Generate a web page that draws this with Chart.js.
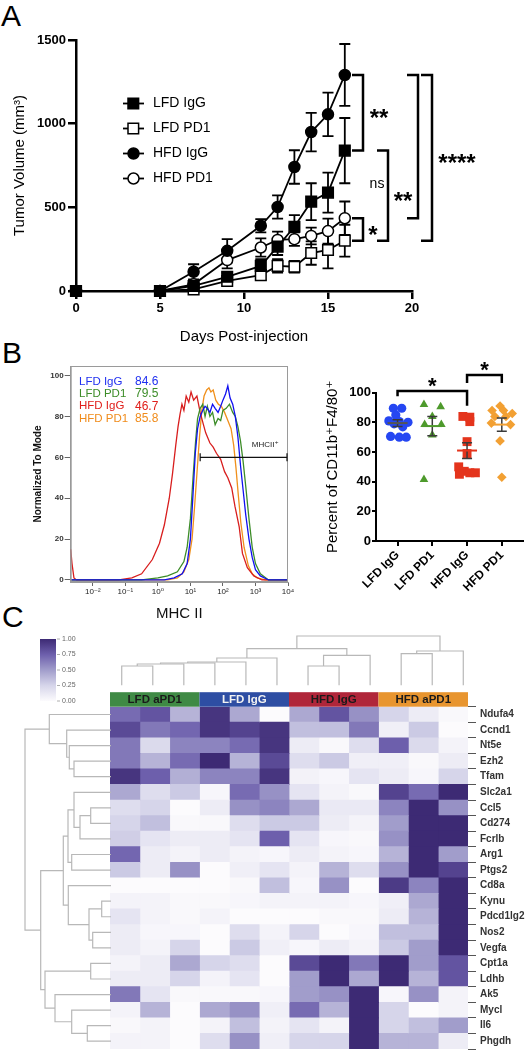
<!DOCTYPE html>
<html>
<head>
<meta charset="utf-8">
<script src="https://cdn.jsdelivr.net/npm/chart.js@4.4.0/dist/chart.umd.min.js"></script>
<style>
  body { margin: 0; background: #fff; width: 531px; height: 1050px; position: relative; overflow: hidden;
         font-family: "Liberation Sans", Arial, sans-serif; }
  canvas { position: absolute; }
  .panel { position: absolute; font-size: 30px; line-height: 30px; color: #000; }
</style>
</head>
<body>
<div class="panel" style="left:1px;top:1px">A</div>
<div class="panel" style="left:2px;top:338px">B</div>
<div class="panel" style="left:2px;top:602px">C</div>

<canvas id="tumor" width="531" height="350" style="left:0;top:0;width:531px;height:350px"></canvas>
<canvas id="flow" width="300" height="280" style="left:0;top:350px;width:300px;height:280px"></canvas>
<canvas id="dots" width="241" height="280" style="left:290px;top:350px;width:241px;height:280px"></canvas>
<canvas id="heat" width="531" height="440" style="left:0;top:630px;width:531px;height:440px"></canvas>
<canvas id="dendTop" width="531" height="60" style="left:0;top:630px;width:531px;height:60px"></canvas>
<canvas id="dendLeft" width="115" height="350" style="left:0;top:700px;width:115px;height:350px"></canvas>

<script>
// ---------- panel A: tumour growth ----------
const days = [0, 5, 7, 9, 11, 12, 13, 14, 15, 16];
const lfdIgG    = [0, 0, 30, 85, 150, 265, 384, 534, 588, 839];
const lfdIgGSem = [0, 0, 20, 25, 40, 50, 70, 110, 120, 195];
const lfdPD1    = [0, 0, 10, 60, 95, 150, 145, 227, 245, 301];
const lfdPD1Sem = [0, 0, 10, 20, 30, 40, 35, 70, 110, 95];
const hfdIgG    = [0, 0, 115, 240, 390, 502, 741, 950, 1056, 1291];
const hfdIgGSem = [0, 0, 45, 70, 40, 70, 100, 115, 130, 185];
const hfdPD1    = [0, 0, 40, 185, 260, 305, 310, 329, 358, 435];
const hfdPD1Sem = [0, 0, 25, 50, 55, 50, 40, 50, 75, 100];

// ---------- panel B left: MHC II histograms (x in log10 units) ----------
const flowNames = ['LFD IgG', 'LFD PD1', 'HFD IgG', 'HFD PD1'];
const flowPct = ['84.6', '79.5', '46.7', '85.8'];
const blueX = [-2.68,0.2,0.5,0.75,0.9,1.0,1.08,1.15,1.22,1.3,1.38,1.45,1.52,1.6,1.68,1.76,1.85,1.93,2.0,2.08,2.15,2.22,2.3,2.38,2.46,2.54,2.62,2.7,2.8,2.9,3.0,3.15,3.4,4.0];
const blueY = [0,0,1,3,8,20,42,62,74,80,83,85,84,82,86,84,82,85,88,91,95,89,86,80,70,56,44,32,20,11,5,2,0,0];
const greenX = [-2.68,-0.5,0.0,0.3,0.6,0.8,0.9,1.0,1.08,1.16,1.22,1.3,1.38,1.45,1.52,1.6,1.68,1.76,1.85,1.93,2.0,2.1,2.2,2.3,2.38,2.46,2.54,2.62,2.7,2.8,2.9,3.0,3.15,3.4,4.0];
const greenY = [0,0,1,2,4,9,16,30,50,68,79,84,86,80,85,80,82,76,79,78,83,84,86,82,80,75,68,58,46,30,16,8,3,0,0];
const redX = [-2.68,-2.64,-2.58,-2.5,-1.2,-0.8,-0.5,-0.17,0.05,0.2,0.35,0.45,0.55,0.62,0.68,0.74,0.8,0.87,0.95,1.02,1.1,1.2,1.3,1.4,1.47,1.6,1.7,1.8,1.93,2.05,2.15,2.27,2.37,2.5,2.6,2.75,2.95,3.2,4.0];
const redY = [15,8,1,0,0,1,3,10,18,27,40,52,66,75,81,86,83,90,87,92,88,90,82,76,72,67,65,62,59,53,50,45,36,26,13,6,2,0,0];
const orangeX = [-2.68,0.3,0.6,0.8,0.95,1.05,1.12,1.2,1.28,1.35,1.42,1.5,1.57,1.63,1.7,1.78,1.86,1.95,2.05,2.15,2.25,2.33,2.4,2.47,2.55,2.65,2.78,2.9,3.05,3.3,4.0];
const orangeY = [0,0,1,4,10,20,34,52,70,83,90,93,94,92,93,88,86,85,82,78,74,66,55,42,28,16,7,3,1,0,0];
const decades = [-2, -1, 0, 1, 2, 3, 4];
const gateLevel = 60, gateStart = 1.3;

// ---------- panel B right: % CD11b+F4/80+ ----------
const dotLabels = ['LFD IgG', 'LFD PD1', 'HFD IgG', 'HFD PD1'];
const dotLfdIgG = [89.5, 89.5, 85, 81, 80.5, 80, 79, 77, 70.5, 70, 70];
const jitLfdIgG = [-0.12, 0.12, -0.05, -0.25, 0.05, 0.3, -0.1, 0.15, -0.2, 0.05, 0.25];
const dotLfdPD1 = [92, 90.5, 84, 78.5, 78.5, 71.5, 41.5];
const jitLfdPD1 = [-0.24, 0.24, 0, -0.22, 0.26, 0, -0.24];
const dotHfdIgG = [84, 83.5, 80.5, 67, 59, 50, 47, 46, 46, 45];
const jitHfdIgG = [-0.12, 0.08, 0.08, 0, 0, -0.24, -0.08, 0.08, 0.24, -0.22];
const dotHfdPD1 = [91, 88, 88, 86, 84, 84, 79.5, 78.5, 67.5, 43];
const jitHfdPD1 = [-0.05, -0.28, 0.05, 0.3, -0.2, 0.12, -0.3, 0.25, -0.05, 0];
const dotMeans = [79.5, 77.5, 61, 78.5];
const dotSems = [2.3, 6.5, 5.3, 4.5];

// ---------- panel C: heatmap ----------
const genes = ['Ndufa4','Ccnd1','Nt5e','Ezh2','Tfam','Slc2a1','Ccl5','Cd274','Fcrlb','Arg1','Ptgs2',
               'Cd8a','Kynu','Pdcd1lg2','Nos2','Vegfa','Cpt1a','Ldhb','Ak5','Mycl','Il6','Phgdh'];
const heatGroups = ['LFD aPD1', 'LFD IgG', 'HFD IgG', 'HFD aPD1'];
const heatValues = [
  [0.70,0.80,0.40, 0.95,0.45,0.00, 0.45,0.80,0.55, 0.25,0.10,0.02],
  [0.85,0.65,0.72, 0.95,0.88,0.95, 0.35,0.35,0.65, 0.08,0.30,0.00],
  [0.65,0.22,0.60, 0.60,0.70,0.95, 0.10,0.02,0.20, 0.75,0.22,0.05],
  [0.65,0.40,0.70, 1.00,0.40,0.85, 0.20,0.30,0.08, 0.08,0.02,0.10],
  [0.95,0.75,0.42, 0.60,0.60,0.95, 0.06,0.03,0.15, 0.10,0.03,0.25],
  [0.45,0.20,0.30, 0.03,0.70,0.55, 0.15,0.05,0.02, 0.88,0.70,1.00],
  [0.20,0.25,0.00, 0.10,0.55,0.60, 0.45,0.12,0.12, 0.60,1.00,0.55],
  [0.25,0.35,0.02, 0.02,0.20,0.30, 0.30,0.10,0.05, 0.50,1.00,1.00],
  [0.28,0.15,0.10, 0.10,0.15,0.75, 0.15,0.03,0.02, 0.55,1.00,1.00],
  [0.72,0.10,0.05, 0.10,0.05,0.03, 0.10,0.05,0.03, 0.40,1.00,0.50],
  [0.30,0.10,0.55, 0.00,0.08,0.15, 0.05,0.40,0.20, 0.55,1.00,0.88],
  [0.00,0.00,0.00, 0.00,0.02,0.35, 0.03,0.55,0.00, 0.92,0.60,1.00],
  [0.05,0.05,0.02, 0.02,0.03,0.05, 0.05,0.05,0.03, 0.08,0.45,1.00],
  [0.15,0.05,0.02, 0.05,0.00,0.00, 0.00,0.02,0.02, 0.10,0.40,1.00],
  [0.10,0.03,0.03, 0.00,0.20,0.05, 0.25,0.00,0.03, 0.35,0.35,1.00],
  [0.10,0.05,0.25, 0.00,0.30,0.08, 0.03,0.10,0.05, 0.30,0.50,1.00],
  [0.05,0.10,0.45, 0.25,0.20,0.00, 0.85,1.00,0.65, 1.00,0.50,0.80],
  [0.10,0.10,0.25, 0.05,0.15,0.00, 0.50,1.00,0.45, 1.00,0.40,0.80],
  [0.65,0.15,0.02, 0.02,0.02,0.03, 0.50,0.55,1.00, 0.03,0.55,0.05],
  [0.05,0.40,0.00, 0.45,0.55,0.08, 0.70,0.40,1.00, 0.25,0.00,0.05],
  [0.02,0.05,0.00, 0.05,0.35,0.05, 0.15,0.05,1.00, 0.25,0.35,0.50],
  [0.05,0.05,0.00, 0.20,0.55,0.08, 0.25,0.25,1.00, 0.40,0.40,0.10]
];
const colorbarTicks = [0, 0.25, 0.5, 0.75, 1];
// dendrograms: [childA, childB, height]; leaves first, internal nodes numbered after them
const colMerges = [[0,1,19.3],[12,2,21.3],[13,3,22.3],[14,4,23.3],[15,5,27.3],[6,7,19.3],[17,8,30],
                   [16,18,36.7],[9,10,31.7],[20,11,34.3],[19,21,49.3]];
const rowMerges = [[3,4,3.7],[2,22,4.17],[1,23,4.43],[0,24,6.17],[6,7,2.03],[26,8,3.1],[5,27,3.7],
                   [9,10,3.93],[28,29,4.3],[12,13,0.93],[14,15,1.83],[31,32,2.2],[11,33,4.27],[30,34,4.77],
                   [16,17,2.03],[20,21,2.37],[19,37,3.93],[18,38,5.6],[36,39,6.6],[35,40,7.03],[25,41,8.6]];

Chart.defaults.font.family = '"Liberation Sans", "DejaVu Sans", Arial, sans-serif';
Chart.defaults.color = '#000';
const FONT = '"Liberation Sans", "DejaVu Sans", Arial, sans-serif';
const quiet = { legend: { display: false }, tooltip: { enabled: false } };

function drawStars(ctx, text, x, mid, size) {
  ctx.font = 'bold ' + size + 'px ' + FONT;
  ctx.textAlign = 'center';
  ctx.textBaseline = 'alphabetic';
  ctx.fillText(text, x, mid + size * 0.57);
}

// ===== panel A =====
const groupsA = [
  { name: 'LFD IgG', mean: lfdIgG, sem: lfdIgGSem, shape: 'rect', fill: '#000' },
  { name: 'LFD PD1', mean: lfdPD1, sem: lfdPD1Sem, shape: 'rect', fill: '#fff' },
  { name: 'HFD IgG', mean: hfdIgG, sem: hfdIgGSem, shape: 'circle', fill: '#000' },
  { name: 'HFD PD1', mean: hfdPD1, sem: hfdPD1Sem, shape: 'circle', fill: '#fff' }
];
const last = days.length - 1;
// [series a, series b, bracket x, label, label x]
const bracketsA = [[2, 0, 363, '**', 379], [3, 1, 363, '*', 373], [0, 1, 388, '**', 403],
                   [2, 3, 418, '', 0], [2, 1, 432, '****', 457]];

const errorBarsA = {
  id: 'errorBarsA',
  beforeDatasetsDraw(chart) {
    const { ctx, scales: { x, y } } = chart;
    ctx.save();
    ctx.strokeStyle = '#000';
    ctx.lineWidth = 1.8;
    groupsA.forEach(g => {
      g.sem.forEach((s, i) => {
        if (!s) return;
        const px = x.getPixelForValue(days[i]);
        const top = y.getPixelForValue(g.mean[i] + s), bot = y.getPixelForValue(Math.max(0, g.mean[i] - s));
        ctx.beginPath();
        ctx.moveTo(px, top); ctx.lineTo(px, bot);
        ctx.moveTo(px - 5.5, top); ctx.lineTo(px + 5.5, top);
        ctx.moveTo(px - 5.5, bot); ctx.lineTo(px + 5.5, bot);
        ctx.stroke();
      });
    });
    ctx.restore();
  }
};

const decorA = {
  id: 'decorA',
  afterDraw(chart) {
    const { ctx, scales: { y } } = chart;
    ctx.save();
    // legend
    groupsA.forEach((g, k) => {
      const ly = 103.5 + k * 25;
      ctx.strokeStyle = '#000'; ctx.lineWidth = 1.8;
      ctx.beginPath(); ctx.moveTo(123, ly); ctx.lineTo(144, ly); ctx.stroke();
      ctx.fillStyle = g.fill; ctx.lineWidth = 1.5;
      ctx.beginPath();
      if (g.shape === 'rect') ctx.rect(128, ly - 5.3, 10.6, 10.6);
      else ctx.arc(133.5, ly, 5.5, 0, Math.PI * 2);
      ctx.fill(); ctx.stroke();
      ctx.fillStyle = '#000';
      ctx.font = '14px ' + FONT; ctx.textAlign = 'left'; ctx.textBaseline = 'middle';
      ctx.fillText(g.name, 153, ly);
    });
    // significance brackets
    ctx.strokeStyle = '#000'; ctx.lineWidth = 2.5; ctx.fillStyle = '#000';
    bracketsA.forEach(([a, b, bx, lab, lx]) => {
      const ya = y.getPixelForValue(groupsA[a].mean[last]);
      const yb = y.getPixelForValue(groupsA[b].mean[last]);
      ctx.beginPath();
      ctx.moveTo(bx - 11, ya); ctx.lineTo(bx, ya); ctx.lineTo(bx, yb); ctx.lineTo(bx - 11, yb);
      ctx.stroke();
      if (lab) drawStars(ctx, lab, lx, (ya + yb) / 2, 24);
    });
    const nsY = (y.getPixelForValue(lfdIgG[last]) + y.getPixelForValue(hfdPD1[last])) / 2;
    ctx.font = '14px ' + FONT; ctx.textAlign = 'center'; ctx.textBaseline = 'middle';
    ctx.fillText('ns', 377, nsY);
    ctx.restore();
  }
};

new Chart(document.getElementById('tumor'), {
  type: 'line',
  data: {
    datasets: groupsA.map(g => ({
      label: g.name,
      data: days.map((d, i) => ({ x: d, y: g.mean[i] })),
      borderColor: '#000', borderWidth: 1.8,
      pointStyle: g.shape, pointRadius: g.shape === 'rect' ? 7.5 : 5.5,
      pointBackgroundColor: g.fill, pointBorderColor: '#000', pointBorderWidth: 1.5,
      clip: false, tension: 0
    }))
  },
  options: {
    responsive: false, animation: false, events: [],
    layout: { padding: { top: 40, right: 119, left: 0, bottom: 0 } },
    plugins: quiet,
    scales: {
      x: {
        type: 'linear', min: 0, max: 20,
        ticks: { stepSize: 5, color: '#000', font: { size: 13, weight: 'bold' }, padding: 2, callback: v => String(v) },
        grid: { drawOnChartArea: false, color: '#000', lineWidth: 2.5, tickLength: 8 },
        border: { color: '#000', width: 2.5 },
        title: { display: true, text: 'Days Post-injection', font: { size: 15 }, color: '#000', padding: { top: 0, bottom: 4 } },
        afterFit(s) { s.height = 59; }
      },
      y: {
        min: 0, max: 1500,
        ticks: { stepSize: 500, color: '#000', font: { size: 13, weight: 'bold' }, padding: 2, callback: v => String(v) },
        grid: { drawOnChartArea: false, color: '#000', lineWidth: 2.5, tickLength: 8 },
        border: { color: '#000', width: 2.5 },
        title: { display: true, text: 'Tumor Volume (mm³)', font: { size: 15 }, color: '#000', padding: { top: 11, bottom: 0 } },
        afterFit(s) { s.width = 76; }
      }
    }
  },
  plugins: [errorBarsA, decorA]
});

// ===== panel B left =====
const flowSeries = [
  { x: blueX, y: blueY, color: '#1010f0', text: '#2030f0' },
  { x: greenX, y: greenY, color: '#3c8c28', text: '#3c8c28' },
  { x: redX, y: redY, color: '#d81e1e', text: '#e0201c' },
  { x: orangeX, y: orangeY, color: '#f0901c', text: '#f08c1c' }
];
const supMap = { '-': '⁻', '0': '⁰', '1': '¹', '2': '²', '3': '³', '4': '⁴' };

const flowDecor = {
  id: 'flowDecor',
  afterDraw(chart) {
    const { ctx, chartArea: a, scales: { x, y } } = chart;
    ctx.save();
    ctx.strokeStyle = '#9a9a9a'; ctx.lineWidth = 1;
    ctx.strokeRect(a.left + 0.5, a.top + 0.5, a.right - a.left - 1, a.bottom - a.top - 1);
    ctx.font = '11.5px ' + FONT; ctx.textBaseline = 'middle'; ctx.textAlign = 'left';
    flowNames.forEach((n, k) => {
      const ly = 31.5 + k * 12.4;
      ctx.fillStyle = flowSeries[k].text;
      ctx.fillText(n, 79, ly);
      ctx.font = '12px ' + FONT;
      ctx.fillText(flowPct[k], 135, ly);
      ctx.font = '11.5px ' + FONT;
    });
    // MHCII+ gate
    const gy = y.getPixelForValue(gateLevel), gx0 = x.getPixelForValue(gateStart), gx1 = a.right - 1;
    ctx.strokeStyle = '#111'; ctx.lineWidth = 1.2;
    ctx.beginPath();
    ctx.moveTo(gx0, gy); ctx.lineTo(gx1, gy);
    ctx.moveTo(gx0, gy - 4); ctx.lineTo(gx0, gy + 4);
    ctx.moveTo(gx1, gy - 4); ctx.lineTo(gx1, gy + 4);
    ctx.stroke();
    ctx.fillStyle = '#222'; ctx.font = '8px ' + FONT; ctx.textAlign = 'center';
    ctx.fillText('MHCII⁺', x.getPixelForValue(3.3), y.getPixelForValue(66));
    ctx.restore();
  }
};

new Chart(document.getElementById('flow'), {
  type: 'line',
  data: {
    datasets: flowSeries.map((s, k) => ({
      label: flowNames[k],
      data: s.x.map((v, i) => ({ x: v, y: s.y[i] })),
      borderColor: s.color, borderWidth: 1.3, pointRadius: 0, tension: 0
    }))
  },
  options: {
    responsive: false, animation: false, events: [],
    layout: { padding: { top: 16, right: 12, left: 0, bottom: 0 } },
    plugins: quiet,
    scales: {
      x: {
        type: 'linear', min: -2.68, max: 4,
        afterBuildTicks(s) { s.ticks = decades.map(v => ({ value: v })); },
        ticks: { callback: v => '10' + String(Math.round(v)).split('').map(c => supMap[c]).join(''),
                 font: { size: 8 }, color: '#222', padding: 1, maxRotation: 0, autoSkip: false },
        grid: { drawOnChartArea: false, color: '#666', tickLength: 4 },
        border: { color: '#9a9a9a', width: 1 },
        title: { display: true, text: 'MHC II', font: { size: 15 }, color: '#111', padding: { top: 0, bottom: 7 } },
        afterFit(s) { s.height = 48; }
      },
      y: {
        min: -1, max: 104.7,
        afterBuildTicks(s) { s.ticks = [0, 20, 40, 60, 80, 100].map(v => ({ value: v })); },
        ticks: { font: { size: 8, weight: 'bold' }, color: '#333', padding: 1 },
        grid: { drawOnChartArea: false, color: '#666', tickLength: 6 },
        border: { color: '#9a9a9a', width: 1 },
        title: { display: true, text: 'Normalized To Mode', font: { size: 10, weight: 'bold' }, color: '#111', padding: { top: 32, bottom: 0 } },
        afterFit(s) { s.width = 70.7; }
      }
    }
  },
  plugins: [flowDecor]
});

// ===== panel B right =====
const dotGroups = [
  { values: dotLfdIgG, jitter: jitLfdIgG, shape: 'circle', r: 4.6, color: '#2546f2' },
  { values: dotLfdPD1, jitter: jitLfdPD1, shape: 'triangle', r: 5, color: '#4e9a2c' },
  { values: dotHfdIgG, jitter: jitHfdIgG, shape: 'rect', r: 6.3, color: '#e4341c' },
  { values: dotHfdPD1, jitter: jitHfdPD1, shape: 'rectRot', r: 4.8, color: '#f2a033' }
];
// [group a, group b, top level, drop level a, drop level b, star level]
const bracketsB = [[0, 2, 101.2, 97.6, 91.2, 108.2], [2, 3, 112, 106.6, 106.6, 119]];

const dotDecor = {
  id: 'dotDecor',
  afterDatasetsDraw(chart) {
    const { ctx, scales: { x, y } } = chart;
    ctx.save();
    dotGroups.forEach((g, k) => {
      const cx = x.getPixelForValue(k + 1);
      const yt = y.getPixelForValue(dotMeans[k] + dotSems[k]);
      const yb = y.getPixelForValue(dotMeans[k] - dotSems[k]);
      const ym = y.getPixelForValue(dotMeans[k]);
      ctx.strokeStyle = '#3a3a3a'; ctx.lineWidth = 1.5;
      ctx.beginPath();
      ctx.moveTo(cx, yt); ctx.lineTo(cx, yb);
      ctx.moveTo(cx - 5, yt); ctx.lineTo(cx + 5, yt);
      ctx.moveTo(cx - 5, yb); ctx.lineTo(cx + 5, yb);
      ctx.stroke();
      ctx.strokeStyle = k === 0 ? '#555' : g.color; ctx.lineWidth = 2;
      ctx.beginPath(); ctx.moveTo(cx - 10, ym); ctx.lineTo(cx + 10, ym); ctx.stroke();
    });
    ctx.strokeStyle = '#000'; ctx.fillStyle = '#000'; ctx.lineWidth = 2.5;
    bracketsB.forEach(([a, b, top, da, db, star]) => {
      const xa = x.getPixelForValue(a + 1), xb = x.getPixelForValue(b + 1);
      ctx.beginPath();
      ctx.moveTo(xa, y.getPixelForValue(da)); ctx.lineTo(xa, y.getPixelForValue(top));
      ctx.lineTo(xb, y.getPixelForValue(top)); ctx.lineTo(xb, y.getPixelForValue(db));
      ctx.stroke();
      drawStars(ctx, '*', (xa + xb) / 2, y.getPixelForValue(star), 22);
    });
    ctx.restore();
  }
};

new Chart(document.getElementById('dots'), {
  type: 'scatter',
  data: {
    datasets: dotGroups.map((g, k) => ({
      label: dotLabels[k],
      data: g.values.map((v, i) => ({ x: k + 1 + g.jitter[i], y: v })),
      pointStyle: g.shape, pointRadius: g.r,
      backgroundColor: g.color, borderColor: g.color, borderWidth: 0, clip: false
    }))
  },
  options: {
    responsive: false, animation: false, events: [],
    layout: { padding: { top: 42.7, right: 8, left: 0, bottom: 0 } },
    plugins: quiet,
    scales: {
      x: {
        type: 'linear', min: 0.38, max: 4.61,
        afterBuildTicks(s) { s.ticks = [1, 2, 3, 4].map(v => ({ value: v })); },
        ticks: { callback: v => dotLabels[Math.round(v) - 1], minRotation: 45, maxRotation: 45,
                 font: { size: 12, weight: 'bold' }, color: '#000', padding: 2, autoSkip: false },
        grid: { drawOnChartArea: false, color: '#000', lineWidth: 2, tickLength: 5 },
        border: { color: '#000', width: 2 },
        afterFit(s) { s.height = 89; }
      },
      y: {
        min: 0, max: 100,
        afterBuildTicks(s) { s.ticks = [0, 20, 40, 60, 80, 100].map(v => ({ value: v })); },
        ticks: { font: { size: 13, weight: 'bold' }, color: '#000', padding: 1 },
        grid: { drawOnChartArea: false, color: '#000', lineWidth: 2, tickLength: 4 },
        border: { color: '#000', width: 2 },
        title: { display: true, text: 'Percent of CD11b⁺F4/80⁺', font: { size: 15 }, color: '#000', padding: { top: 34, bottom: 0 } },
        afterFit(s) { s.width = 86; }
      }
    }
  },
  plugins: [dotDecor]
});

// ===== panel C: heatmap =====
const purpleStops = [[0, [252, 251, 253]], [0.25, [214, 213, 234]], [0.5, [161, 157, 203]], [0.75, [109, 95, 172]], [1, [61, 42, 116]]];
function purple(v) {
  for (let i = 1; i < purpleStops.length; i++) {
    const [v1, c1] = purpleStops[i], [v0, c0] = purpleStops[i - 1];
    if (v <= v1) {
      const t = (v - v0) / (v1 - v0);
      return 'rgb(' + c0.map((c, j) => Math.round(c + (c1[j] - c) * t)).join(',') + ')';
    }
  }
  return 'rgb(61,42,116)';
}
const headerFill = ['#3f8a45', '#2e4ea3', '#b0263a', '#e8952f'];
const headerText = ['#1a1a1a', '#f2f2f2', '#1a1a1a', '#1a1a1a'];

const heatDecor = {
  id: 'heatDecor',
  afterDraw(chart) {
    const { ctx, chartArea: a, scales: { x } } = chart;
    ctx.save();
    heatGroups.forEach((g, k) => {
      const x0 = x.getPixelForValue(k * 3), x1 = x.getPixelForValue(k * 3 + 3);
      ctx.fillStyle = headerFill[k];
      ctx.fillRect(x0, a.top - 14.5, x1 - x0, 14.5);
      ctx.fillStyle = headerText[k];
      ctx.font = 'bold 11.5px ' + FONT; ctx.textAlign = 'center'; ctx.textBaseline = 'middle';
      ctx.fillText(g, (x0 + x1) / 2, a.top - 7);
    });
    // colour bar
    const cbL = 40, cbT = 9, cbB = 71, cbW = 16;
    const grad = ctx.createLinearGradient(0, cbB, 0, cbT);
    purpleStops.forEach(([v]) => grad.addColorStop(v, purple(v)));
    ctx.fillStyle = grad;
    ctx.fillRect(cbL, cbT, cbW, cbB - cbT);
    ctx.strokeStyle = '#999'; ctx.lineWidth = 0.8; ctx.fillStyle = '#666';
    ctx.font = '7px ' + FONT; ctx.textAlign = 'left'; ctx.textBaseline = 'middle';
    colorbarTicks.forEach(v => {
      const ty = cbB - v * (cbB - cbT);
      ctx.beginPath(); ctx.moveTo(cbL + cbW + 1, ty); ctx.lineTo(cbL + cbW + 4, ty); ctx.stroke();
      ctx.fillText(v.toFixed(2), cbL + cbW + 6, ty);
    });
    ctx.restore();
  }
};

new Chart(document.getElementById('heat'), {
  type: 'bar',
  data: {
    labels: genes,
    datasets: heatValues[0].map((_, j) => ({
      label: 'col' + j,
      data: genes.map(() => 1),
      backgroundColor: genes.map((g, i) => purple(heatValues[i][j])),
      borderWidth: 0, barPercentage: 1, categoryPercentage: 1, inflateAmount: 0.4
    }))
  },
  options: {
    indexAxis: 'y', responsive: false, animation: false, events: [],
    layout: { padding: { top: 76.7, right: 0, left: 110, bottom: 21 } },
    plugins: quiet,
    scales: {
      x: { stacked: true, min: 0, max: 12, display: false },
      y: {
        stacked: true, position: 'right',
        grid: { drawOnChartArea: false, color: '#555', tickLength: 8, lineWidth: 1 },
        border: { display: false },
        ticks: { font: { size: 10, weight: 'bold' }, color: '#333', padding: 4, autoSkip: false },
        afterFit(s) { s.width = 63; }
      }
    }
  },
  plugins: [heatDecor]
});

// ===== dendrograms =====
function dendroSegments(nLeaves, merges) {
  const pos = [], h = [];
  for (let i = 0; i < nLeaves; i++) { pos[i] = i; h[i] = 0; }
  return merges.map(([a, b, ht], k) => {
    const id = nLeaves + k;
    pos[id] = (pos[a] + pos[b]) / 2; h[id] = ht;
    return [[pos[a], h[a]], [pos[a], ht], [pos[b], ht], [pos[b], h[b]]];
  });
}
const dendStyle = { showLine: true, pointRadius: 0, borderColor: '#b8b8b8', borderWidth: 1.2, clip: false };

new Chart(document.getElementById('dendTop'), {
  type: 'scatter',
  data: { datasets: dendroSegments(12, colMerges).map(seg => ({ ...dendStyle, data: seg.map(([p, h]) => ({ x: p, y: h })) })) },
  options: {
    responsive: false, animation: false, events: [],
    layout: { padding: { top: 5.3, bottom: 4.7, left: 106.2, right: 52.2 } },
    plugins: quiet,
    scales: { x: { min: -0.5, max: 11.5, display: false }, y: { min: 0, max: 50, display: false } }
  }
});

new Chart(document.getElementById('dendLeft'), {
  type: 'scatter',
  data: { datasets: dendroSegments(22, rowMerges).map(seg => ({ ...dendStyle, data: seg.map(([p, h]) => ({ x: h, y: p })) })) },
  options: {
    responsive: false, animation: false, events: [],
    layout: { padding: { top: 6.7, bottom: 1, left: 0, right: 4 } },
    plugins: quiet,
    scales: { x: { min: 0, max: 11.1, reverse: true, display: false }, y: { min: -0.5, max: 21.5, reverse: true, display: false } }
  }
});
</script>
</body>
</html>
